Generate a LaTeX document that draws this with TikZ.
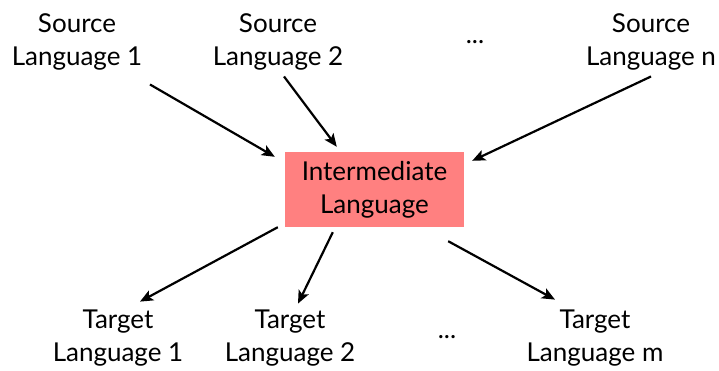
\documentclass[tikz,border=0pt]{standalone}
\usepackage{fontspec}
\setmainfont{Lato}
\usetikzlibrary{arrows.meta}
\begin{document}
\begin{tikzpicture}[x=1pt,y=-1pt,
  lbl/.style={align=center,inner sep=0pt,font=\fontsize{26}{33}\selectfont},
  box/.style={lbl,fill=boxred,minimum width=179pt,minimum height=75pt},
  arr/.style={line width=2.2pt,-{Stealth[length=13pt,width=11pt,inset=3pt]}}]
\definecolor{boxred}{RGB}{255,128,128}
\useasboundingbox (0,0) rectangle (719,371);
\node[lbl] (s1) at (77,41.5) {Source\\Language 1};
\node[lbl] (s2) at (278,41.5) {Source\\Language 2};
\node[lbl] (sd) at (475,42) {...};
\node[lbl] (sn) at (651,41.5) {Source\\Language n};
\node[box] (im) at (374.5,189.5) {Intermediate\\Language};
\node[lbl] (t1) at (118,338.5) {Target\\Language 1};
\node[lbl] (t2) at (290,338.5) {Target\\Language 2};
\node[lbl] (td) at (447,337) {...};
\node[lbl] (tm) at (595,338.5) {Target\\Language m};
\draw[arr] ([xshift=73pt,yshift=-14.5pt]s1.south) -- ([xshift=-10pt,yshift=-5pt]im.north west);
\draw[arr] ([xshift=6pt,yshift=-6.5pt]s2.south) -- ([xshift=52pt,yshift=5pt]im.north west);
\draw[arr] ([xshift=0pt,yshift=-6.5pt]sn.south) -- ([xshift=8pt,yshift=-9pt]im.north east);
\draw[arr] ([xshift=-7pt]im.south west) -- ([xshift=22pt,yshift=8.5pt]t1.north);
\draw[arr] ([xshift=48pt,yshift=-5pt]im.south west) -- ([xshift=8pt,yshift=6.5pt]t2.north);
\draw[arr] ([xshift=-16pt,yshift=-14pt]im.south east) -- ([xshift=-40pt,yshift=10.5pt]tm.north);
\end{tikzpicture}
\end{document}
